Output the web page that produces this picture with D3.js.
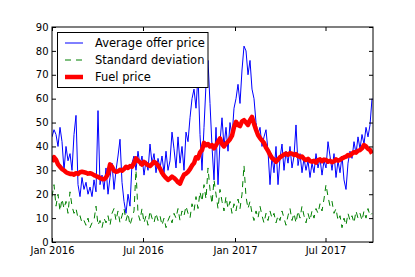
<!DOCTYPE html>
<html>
<head>
<meta charset="utf-8">
<script src="https://cdn.jsdelivr.net/npm/d3@7"></script>
<style>
  body { margin: 0; background: #fff; }
  svg { display: block; font-family: "DejaVu Sans", sans-serif; }
</style>
</head>
<body>
<script>

// x grid: one reading every 4 days from 1 Jan 2016
const startDate = "2016-01-01";
const stepDays = 4;
const endDate = "2017-10-04";

const seriesNames = ["Average offer price", "Standard deviation", "Fuel price"];

const offerPrice = [
    44, 47, 45, 40, 48, 42, 30, 40, 34, 37, 30, 45, 53, 24, 19, 27, 22, 25, 20, 23,
    19, 26, 21, 55, 24, 28, 22, 31, 20, 27, 33, 22, 30, 36, 43, 25, 17, 12, 20, 15,
    33, 36, 30, 38, 32, 36, 28, 34, 30, 41, 33, 37, 29, 35, 31, 36, 29, 38, 30, 34,
    46, 39, 31, 44, 33, 40, 30, 46, 42, 52, 60, 64, 56, 70, 45, 30, 48, 66, 76, 58,
    40, 26, 48, 24, 42, 52, 40, 48, 38, 50, 44, 56, 60, 66, 58, 72, 82, 80, 70, 76,
    64, 60, 50, 45, 48, 40, 44, 47, 38, 24, 36, 29, 40, 24, 35, 41, 30, 38, 33, 40,
    31, 36, 49, 32, 37, 29, 35, 30, 34, 27, 33, 29, 37, 31, 35, 28, 34, 31, 42, 36,
    30, 37, 27, 34, 29, 36, 26, 22, 33, 38, 35, 42, 37, 44, 39, 45, 41, 48, 44, 49,
    60
];

const stdDev = [
    19, 24, 15, 20, 13, 18, 14, 17, 12, 21, 15, 12, 14, 10, 11, 8, 9, 7, 10, 6,
    8, 9, 15, 7, 9, 6, 10, 8, 11, 7, 12, 14, 9, 13, 8, 11, 14, 9, 12, 7,
    10, 13, 30, 12, 9, 14, 8, 11, 7, 13, 10, 8, 12, 9, 11, 7, 10, 6, 9, 11,
    8, 12, 10, 14, 9, 13, 11, 15, 12, 10, 16, 13, 19, 14, 21, 17, 24, 18, 31, 22,
    16, 26, 20, 14, 22, 17, 13, 19, 14, 17, 12, 16, 13, 18, 14, 20, 32, 19, 14, 17,
    12, 9, 13, 10, 15, 11, 8, 12, 9, 13, 10, 12, 8, 11, 9, 13, 10, 7, 11, 14,
    9, 12, 8, 13, 10, 15, 11, 8, 12, 9, 13, 10, 14, 12, 16, 13, 18, 24, 19, 15,
    17, 12, 14, 9, 11, 6, 10, 7, 12, 9, 11, 8, 13, 10, 12, 9, 13, 10, 14, 11,
    12
];

const fuelPrice = [
    33.5, 35.5, 34.5, 32.5, 31.5, 30.5, 30, 29.2, 28.8, 28.5, 28.6, 28.2, 28.8, 28.5, 29.2, 29.4, 29.2, 29, 28.6, 28.8,
    28.5, 28, 27.6, 27.3, 26.8, 26.4, 26.3, 27, 28.5, 32.5, 31.5, 29.8, 29.4, 29.6, 30.2, 29.8, 30.5, 31.5, 31, 31.8,
    31.5, 33, 35, 34, 33.4, 32.4, 33.5, 32.8, 32.2, 31.8, 32.6, 33.6, 33, 32, 30.8, 29, 27.8, 26.8, 26, 26.6,
    27.4, 26.8, 26, 25, 24.4, 26.5, 28.2, 28.6, 29.4, 30.5, 32, 33, 35.5, 35, 37.5, 38.5, 41.5, 40.5, 41, 40,
    40.6, 39.2, 40.5, 42, 43.4, 41, 40, 41.2, 42, 43, 44.5, 48, 50.3, 49, 48.5, 50.5, 51, 50, 49, 51,
    52.4, 49.5, 47, 44.8, 43.5, 42.5, 41.5, 39.5, 38.2, 36.5, 35.2, 34.5, 33.6, 34.5, 35.5, 36, 36.6, 37, 36.5, 37.2,
    37, 36.4, 36.8, 36, 35.6, 35.8, 34.8, 34.3, 34.8, 33.9, 33.6, 34, 33.2, 34.3, 34.6, 33.8, 34.5, 34.3, 33.6, 34,
    33.4, 33.8, 34.6, 34, 34.4, 35, 35.4, 35.7, 36.4, 36.2, 37, 37.6, 37.4, 38.2, 38.5, 39.2, 40.6, 40, 39, 38.5,
    37
];

const yTicks = [0, 10, 20, 30, 40, 50, 60, 70, 80, 90];
const xTickLabels = ["2016-01-01", "2016-07-01", "2017-01-01", "2017-07-01"];


window.onload = function() {
    drawChart();
};


/** Draws the three price series in a matplotlib-like frame. */
function drawChart() {

    const width = 415;
    const height = 277;
    const margin = {top: 27, right: 42, bottom: 35, left: 52};

    const parse = d3.utcParse("%Y-%m-%d");
    const start = parse(startDate);
    const dates = offerPrice.map(function(d, i) {
        return d3.utcDay.offset(start, i * stepDays);
    });

    let xScale = d3.scaleUtc()
                   .domain([start, parse(endDate)])
                   .range([margin.left, width - margin.right]);

    let yScale = d3.scaleLinear()
                   .domain([0, 90])
                   .range([height - margin.bottom, margin.top]);

    let svg = d3.select("body")
                .append("svg")
                .attr("width", width)
                .attr("height", height);

    svg.append("clipPath")
       .attr("id", "plotClip")
       .append("rect")
       .attr("x", margin.left)
       .attr("y", margin.top)
       .attr("width", width - margin.left - margin.right)
       .attr("height", height - margin.top - margin.bottom);

    let plot = svg.append("g").attr("clip-path", "url(#plotClip)");

    // series, red drawn last so it sits on top
    const series = [
        {values: offerPrice, color: "#0000ff", width: 1, dash: null},
        {values: stdDev, color: "#008000", width: 1, dash: "6,5"},
        {values: fuelPrice, color: "#ff0000", width: 4.5, dash: null}
    ];

    series.forEach(function(s) {
        let line = d3.line()
                     .x(function(d, i) { return xScale(dates[i]); })
                     .y(function(d) { return yScale(d); });

        plot.append("path")
            .datum(s.values)
            .attr("fill", "none")
            .attr("stroke", s.color)
            .attr("stroke-width", s.width)
            .attr("stroke-linejoin", "round")
            .attr("stroke-dasharray", s.dash)
            .attr("d", line);
    });

    // ticks point inwards on every side, like the classic style
    const xTicks = xTickLabels.map(parse);

    let xAxis = svg.append("g")
                   .attr("transform", "translate(0," + (height - margin.bottom) + ")")
                   .call(d3.axisBottom(xScale)
                           .tickValues(xTicks)
                           .tickFormat(d3.utcFormat("%b %Y"))
                           .tickSizeInner(-4)
                           .tickSizeOuter(0)
                           .tickPadding(5));

    svg.append("g")
       .attr("transform", "translate(0," + margin.top + ")")
       .call(d3.axisTop(xScale)
               .tickValues(xTicks)
               .tickFormat("")
               .tickSizeInner(-4)
               .tickSizeOuter(0));

    let yAxis = svg.append("g")
                   .attr("transform", "translate(" + margin.left + ",0)")
                   .call(d3.axisLeft(yScale)
                           .tickValues(yTicks)
                           .tickSizeInner(-4)
                           .tickSizeOuter(0)
                           .tickPadding(3.5));

    svg.append("g")
       .attr("transform", "translate(" + (width - margin.right) + ",0)")
       .call(d3.axisRight(yScale)
               .tickValues(yTicks)
               .tickFormat("")
               .tickSizeInner(-4)
               .tickSizeOuter(0));

    svg.selectAll(".domain").remove();
    svg.selectAll(".tick line").attr("stroke", "#000");
    svg.selectAll(".tick text")
       .attr("fill", "#000")
       .style("font-size", "10px")
       .style("font-family", "DejaVu Sans");

    // frame
    svg.append("rect")
       .attr("x", margin.left)
       .attr("y", margin.top)
       .attr("width", width - margin.left - margin.right)
       .attr("height", height - margin.top - margin.bottom)
       .attr("fill", "none")
       .attr("stroke", "#000")
       .attr("stroke-width", 1);

    addLegend();


    /** Adds the boxed legend in the upper left corner. */
    function addLegend() {

        let legend = svg.append("g")
                        .attr("transform", "translate(57.5,32.5)");

        legend.append("rect")
              .attr("width", 150.5)
              .attr("height", 55)
              .attr("fill", "#fff")
              .attr("stroke", "#000")
              .attr("stroke-width", 1);

        let rows = legend.selectAll(".legendRow")
                         .data(series)
                         .enter().append("g")
                         .attr("class", "legendRow")
                         .attr("transform", function(d, i) {
                             return "translate(0," + (10.5 + i * 17) + ")"; });

        rows.append("line")
            .attr("x1", 7.5)
            .attr("x2", 25.5)
            .attr("stroke", function(d) { return d.color; })
            .attr("stroke-width", function(d) { return d.width; })
            .attr("stroke-dasharray", function(d) { return d.dash; });

        rows.append("text")
            .attr("x", 37.5)
            .attr("dy", "0.36em")
            .style("font-size", "11.5px")
            .text(function(d, i) { return seriesNames[i]; });
    }
}
</script>
</body>
</html>
